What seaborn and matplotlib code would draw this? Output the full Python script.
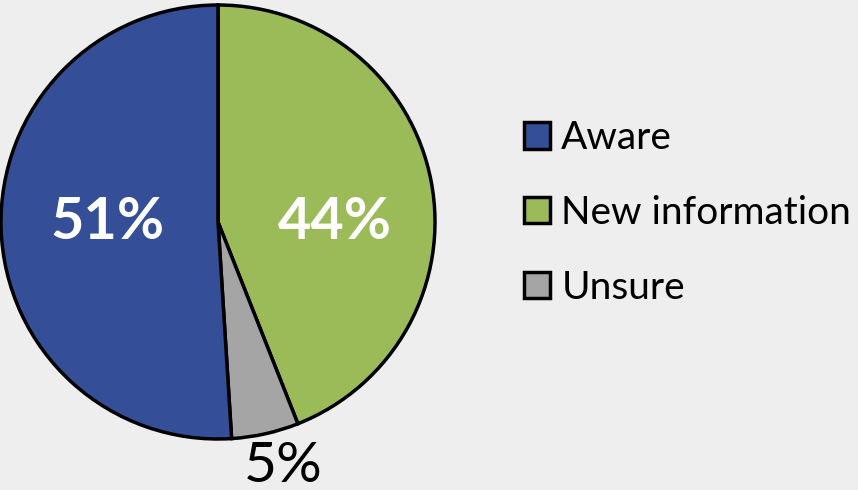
import matplotlib
matplotlib.use("Agg")
import matplotlib.pyplot as plt
import seaborn as sns
from matplotlib.patches import Patch

categories = ["New information", "Unsure", "Aware"]
values = [44, 5, 51]
legend_order = ["Aware", "New information", "Unsure"]
colors = {"Aware": "#344F97", "New information": "#9BBB59", "Unsure": "#A5A5A5"}
pct_labels = ["44%", "5%", "51%"]

sns.set_theme(style="white")
plt.rcParams["font.family"] = ["Lato", "DejaVu Sans"]
plt.rcParams["text.color"] = "black"
bg = "#EEEEEE"

fig = plt.figure(figsize=(8.58, 4.90), dpi=100, facecolor=bg)
ax = fig.add_axes([1/858, 51/490, 434/858, 434/490])
ax.set_facecolor(bg)

wedges, _ = ax.pie(values, colors=[colors[c] for c in categories], startangle=90,
                   counterclock=False, radius=1.0,
                   wedgeprops=dict(edgecolor="black", linewidth=2.5))
ax.set_xlim(-1, 1)
ax.set_ylim(-1, 1)
ax.set_aspect("equal")
ax.axis("off")

label_pos = {"New information": (0.54, 0.0), "Unsure": (0.30, -1.125), "Aware": (-0.51, 0.0)}
for cat, lab in zip(categories, pct_labels):
    x, y = label_pos[cat]
    if cat == "Unsure":
        ax.text(x, y, lab, ha="center", va="center", fontsize=41, color="black",
                clip_on=False)
    else:
        ax.text(x, y, lab, ha="center", va="center", fontsize=41.5, color="white",
                fontweight="bold")

handles = [Patch(facecolor=colors[c], edgecolor="black", linewidth=2.5) for c in legend_order]
fig.legend(handles, legend_order, loc="center left", bbox_to_anchor=(524/858, 277/490),
           frameon=False, fontsize=28, handlelength=0.66, handleheight=0.66,
           handletextpad=0.3, labelspacing=1.0, borderpad=0, borderaxespad=0,
           labelcolor="black")

fig.savefig("out.png", dpi=100, facecolor=bg)
